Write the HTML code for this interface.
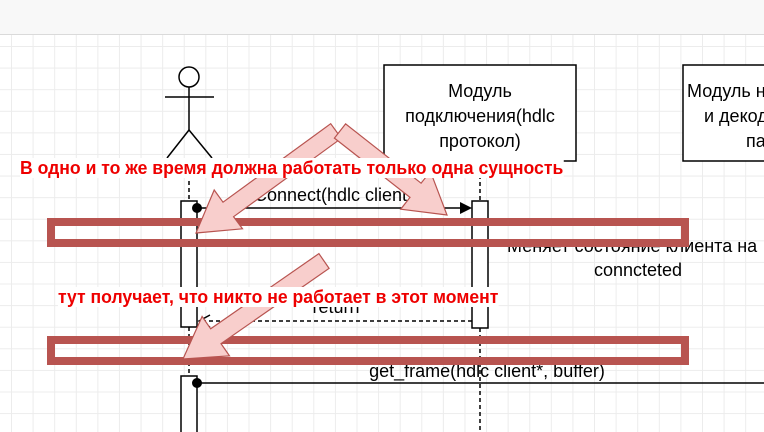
<!DOCTYPE html>
<html><head><meta charset="utf-8"><style>
html,body{margin:0;padding:0;width:764px;height:432px;overflow:hidden;background:#fff;font-family:"Liberation Sans",sans-serif}
.top{position:absolute;left:0;top:0;width:764px;height:34px;background:#f8f8f8;border-bottom:1px solid #dadada}
.grid{position:absolute;left:0;top:35px;width:764px;height:397px;
background-image:linear-gradient(#ececec 1px,transparent 1px),linear-gradient(90deg,#ececec 1px,transparent 1px);
background-size:21.6px 21.6px;background-position:11px 11px}
svg{position:absolute;left:0;top:0}
.lbl{position:absolute;color:#e00;font-weight:bold;font-size:18px;background:#fff;white-space:nowrap;line-height:20px;transform-origin:0 0}
</style></head><body>
<div class="top"></div><div class="grid"></div>
<svg width="764" height="432" xmlns="http://www.w3.org/2000/svg" font-family="Liberation Sans, sans-serif">
<g stroke="#000" stroke-width="1.5" fill="none">
<circle cx="189" cy="77" r="10" fill="#fff"/>
<line x1="189" y1="87" x2="189" y2="130"/>
<line x1="165" y1="97" x2="214" y2="97"/>
<line x1="189" y1="130" x2="167" y2="158"/>
<line x1="189" y1="130" x2="212" y2="158"/>
<line x1="189" y1="160" x2="189" y2="201" stroke-dasharray="4,3"/>
<line x1="189" y1="327" x2="189" y2="376" stroke-dasharray="4,3"/>
<rect x="384" y="65" width="192" height="96" fill="#fff"/>
<rect x="683" y="65" width="120" height="96" fill="#fff"/>
<line x1="480" y1="161" x2="480" y2="201" stroke-dasharray="4,3"/>
<line x1="480" y1="328" x2="480" y2="432" stroke-dasharray="4,3"/>
<rect x="181" y="201" width="16" height="126" fill="#fff"/>
<rect x="181" y="376" width="16" height="70" fill="#fff"/>
<rect x="472" y="201" width="16" height="127" fill="#fff"/>
<line x1="197" y1="208" x2="462" y2="208"/>
<line x1="472" y1="321" x2="199" y2="321" stroke-dasharray="4,3"/>
<polyline points="210,315 199,321 210,327"/>
<line x1="197" y1="383" x2="764" y2="383"/>
</g>
<circle cx="197" cy="208" r="5" fill="#000"/>
<circle cx="197" cy="383" r="5" fill="#000"/>
<polygon points="472,208 460,202 460,214" fill="#000"/>
<g font-size="18" fill="#000" text-anchor="middle">
<text x="480" y="97">Модуль</text>
<text x="480" y="122">подключения(hdlc</text>
<text x="480" y="147">протокол)</text>
<text x="337" y="201">Connect(hdlc client*)</text>
<text x="336" y="313">return</text>
<text x="487" y="377">get_frame(hdlc client*, buffer)</text>
<text x="638" y="276">conncteted</text>
<text x="507" y="252" text-anchor="start">Меняет состояние клиента на</text>
</g>
<svg x="683" y="65" width="81" height="96"><g font-size="18"><text x="4" y="32">Модуль нарезки</text><text x="21" y="57">и декодирования</text><text x="63" y="82">пакетов</text></g></svg>
<g fill="none" stroke="#b85450" stroke-width="8">
<rect x="51" y="222" width="634" height="21"/>
<rect x="51" y="340" width="634" height="21"/>
</g>
<g id="arr" fill="#f8cecc" stroke="#b85450" stroke-width="1.2"></g>
</svg>
<div class="lbl" style="left:20px;top:158px;transform:scaleX(0.978)">В одно и то же время должна работать только одна сущность</div>
<div class="lbl" style="left:58px;top:287px;transform:scaleX(0.977)">тут получает, что никто не работает в этот момент</div>
<script>
function arrow(ax,ay,bx,by){var dx=bx-ax,dy=by-ay,L=Math.hypot(dx,dy),ux=dx/L,uy=dy/L,nx=-uy,ny=ux,w=9,hw=24,hl=40;
var hx=bx-ux*hl,hy=by-uy*hl;
var p=[[ax+nx*w,ay+ny*w],[hx+nx*w,hy+ny*w],[hx+nx*hw,hy+ny*hw],[bx,by],[hx-nx*hw,hy-ny*hw],[hx-nx*w,hy-ny*w],[ax-nx*w,ay-ny*w]];
var e=document.createElementNS("http://www.w3.org/2000/svg","polygon");e.setAttribute("points",p.map(function(q){return q[0].toFixed(1)+","+q[1].toFixed(1)}).join(" "));document.getElementById("arr").appendChild(e);}
arrow(336,131,196,233);
arrow(340,131,447,215);
arrow(324,261,183,359);
</script>
</body></html>
